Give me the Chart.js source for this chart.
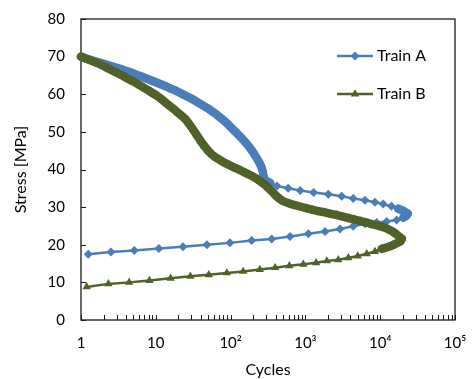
<!DOCTYPE html>
<html lang="en">
<head>
<meta charset="UTF-8">
<title>Stress vs Cycles</title>
<script src="https://cdn.jsdelivr.net/npm/chart.js@4.4.0/dist/chart.umd.min.js"></script>
<style>
  html, body { margin: 0; padding: 0; background: #fff; }
  #wrap { width: 474px; height: 379px; }
</style>
</head>
<body>
<div id="wrap"><canvas id="stressChart" width="474" height="379"></canvas></div>
<script>
// Train A: upper branch, turning point, lower branch
const cyclesA = [
  1.00, 1.12, 1.26, 1.41, 1.58, 1.78, 2.00, 2.24, 2.51, 2.82,
  3.16, 3.55, 3.98, 4.47, 5.01, 5.62, 6.31, 7.08, 7.94, 8.91,
  10.0, 11.2, 12.6, 14.1, 15.8, 17.8, 20.0, 22.4, 25.1, 28.2,
  31.6, 35.5, 39.8, 44.7, 50.1, 56.2, 63.1, 70.8, 79.4, 89.1,
  100, 112, 126, 141, 158, 178, 200, 219, 240, 257,
  269, 275, 282, 339, 417, 589, 851, 1288, 2023, 3055,
  4365, 6266, 8511, 10965, 14125, 17378, 20893, 23442, 22400, 20370,
  16600, 12220, 8970, 6270, 4365, 2900, 1830, 1094, 622, 354,
  191, 98, 48.3, 23.1, 11.0, 5.16, 2.52, 1.25
];
const stressA = [
  70.0, 69.6, 69.3, 69.0, 68.7, 68.4, 68.1, 67.8, 67.5, 67.2,
  66.9, 66.6, 66.2, 65.9, 65.5, 65.1, 64.8, 64.4, 64.0, 63.6,
  63.2, 62.8, 62.4, 62.0, 61.5, 61.1, 60.6, 60.1, 59.6, 59.1,
  58.6, 58.0, 57.4, 56.8, 56.2, 55.5, 54.8, 54.0, 53.2, 52.3,
  51.3, 50.3, 49.3, 48.3, 47.2, 46.0, 44.6, 43.3, 42.0, 40.7,
  39.5, 38.3, 37.3, 36.4, 35.6, 35.0, 34.4, 33.9, 33.4, 32.9,
  32.3, 31.8, 31.3, 30.8, 30.2, 29.6, 28.9, 28.3, 27.7, 27.2,
  26.6, 26.2, 25.9, 25.6, 24.9, 24.2, 23.5, 22.9, 22.2, 21.5,
  21.1, 20.5, 20.0, 19.5, 19.0, 18.5, 18.1, 17.5
];

// Train B
const cyclesB = [
  1.00, 1.12, 1.26, 1.41, 1.58, 1.78, 2.00, 2.24, 2.51, 2.82,
  3.16, 3.55, 3.98, 4.47, 5.01, 5.62, 6.31, 7.08, 7.94, 8.91,
  10.0, 11.2, 12.6, 14.1, 15.8, 17.8, 20.0, 22.4, 25.1, 28.2,
  31.6, 35.5, 39.8, 44.7, 50.1, 56.2, 63.1, 70.8, 79.4, 89.1,
  100, 112, 126, 141, 158, 178, 200, 224, 251, 282,
  316, 355, 398, 447, 501, 603, 724, 871, 1047, 1259,
  1514, 1820, 2188, 2630, 3162, 3802, 4571, 5495, 6607, 7943,
  9333, 10965, 12589, 14454, 16218, 17783, 19498, 18620, 16600, 14790,
  12830, 10470, 8510, 6610, 5010, 3750, 2750, 1930, 1390, 938,
  610, 393, 246, 147, 89, 51, 29, 15.8, 8.2, 4.4,
  2.32, 1.19
];
const stressB = [
  70.0, 69.6, 69.2, 68.8, 68.4, 68.0, 67.5, 67.0, 66.5, 66.0,
  65.5, 65.0, 64.4, 63.9, 63.4, 62.8, 62.2, 61.6, 61.0, 60.4,
  59.8, 59.1, 58.3, 57.5, 56.7, 55.9, 55.0, 54.2, 53.3, 52.0,
  50.6, 49.1, 47.6, 46.2, 45.0, 44.0, 43.2, 42.6, 42.0, 41.5,
  41.0, 40.5, 40.1, 39.6, 39.1, 38.6, 38.1, 37.5, 36.8, 36.1,
  35.2, 34.2, 33.2, 32.3, 31.6, 31.0, 30.5, 30.1, 29.7, 29.3,
  28.9, 28.6, 28.2, 27.9, 27.5, 27.1, 26.7, 26.3, 25.9, 25.4,
  25.1, 24.7, 24.2, 23.6, 22.9, 22.2, 21.6, 20.9, 20.4, 19.9,
  19.4, 18.9, 18.2, 17.6, 17.0, 16.5, 16.0, 15.7, 15.2, 14.8,
  14.4, 13.9, 13.4, 12.9, 12.5, 12.0, 11.6, 11.1, 10.5, 10.0,
  9.6, 8.8
];

const seriesNames = ['Train A', 'Train B'];
const xTickValues = [1, 10, 100, 1000, 10000, 100000];
const xTickLabels = ['1', '10', '10²', '10³', '10⁴', '10⁵'];

const BLUE = '#4A7EBB';
const GREEN = '#4F6228';
const FONT = 'Lato, "Open Sans", sans-serif';

function toPoints(xs, ys) {
  return xs.map((x, i) => ({ x: x, y: ys[i] }));
}

// where markers crowd together the series reads as a thick band
function bandWidth(c) {
  const d = Math.hypot(c.p1.x - c.p0.x, c.p1.y - c.p0.y);
  return d < 7 ? 8.5 : 2.5;
}

function drawMarker(ctx, style, x, y, r, color) {
  ctx.save();
  ctx.fillStyle = color;
  ctx.beginPath();
  if (style === 'rectRot') {
    ctx.moveTo(x, y - r);
    ctx.lineTo(x + r, y);
    ctx.lineTo(x, y + r);
    ctx.lineTo(x - r, y);
  } else {
    ctx.moveTo(x, y - r);
    ctx.lineTo(x + r * 0.866, y + r * 0.5);
    ctx.lineTo(x - r * 0.866, y + r * 0.5);
  }
  ctx.closePath();
  ctx.fill();
  ctx.restore();
}

// frame round the plot area + inward tick marks
const frameTicks = {
  id: 'frameTicks',
  beforeDatasetsDraw(chart) {
    const { ctx, chartArea: a, scales } = chart;
    ctx.save();
    ctx.strokeStyle = '#1a1a1a';
    ctx.lineWidth = 1.3;
    ctx.strokeRect(a.left, a.top, a.right - a.left, a.bottom - a.top);
    ctx.lineWidth = 1;
    ctx.beginPath();
    for (let v = 0; v <= 80; v += 10) {
      const py = Math.round(scales.y.getPixelForValue(v)) + 0.5;
      ctx.moveTo(a.left, py);
      ctx.lineTo(a.left + 5, py);
    }
    for (let d = 0; d < 5; d++) {
      for (let m = 1; m <= 10; m++) {
        const px = Math.round(scales.x.getPixelForValue(m * Math.pow(10, d))) + 0.5;
        ctx.moveTo(px, a.bottom);
        ctx.lineTo(px, a.bottom - 5);
      }
    }
    ctx.stroke();
    ctx.restore();
  }
};

// legend drawn inside the plot, top right
const boxLegend = {
  id: 'boxLegend',
  afterDraw(chart) {
    const ctx = chart.ctx;
    const rows = [
      { y: 56, ds: chart.data.datasets[0] },
      { y: 94, ds: chart.data.datasets[1] }
    ];
    ctx.save();
    rows.forEach(r => {
      ctx.strokeStyle = r.ds.borderColor;
      ctx.lineWidth = r.ds.borderWidth;
      ctx.beginPath();
      ctx.moveTo(337, r.y);
      ctx.lineTo(373, r.y);
      ctx.stroke();
      drawMarker(ctx, r.ds.pointStyle, 355, r.y, r.ds.pointRadius, r.ds.backgroundColor);
      ctx.fillStyle = '#000';
      ctx.font = '16px ' + FONT;
      ctx.textAlign = 'left';
      ctx.textBaseline = 'middle';
      ctx.fillText(r.ds.label, 377, r.y);
    });
    ctx.restore();
  }
};

// invisible outward ticks only push the labels away from the axis
const hiddenGrid = (len) => ({
  display: true,
  drawOnChartArea: false,
  drawTicks: true,
  tickLength: len,
  color: 'rgba(0,0,0,0)'
});

const ctx = document.getElementById('stressChart').getContext('2d');
new Chart(ctx, {
  type: 'scatter',
  data: {
    datasets: [
      {
        label: seriesNames[0],
        data: toPoints(cyclesA, stressA),
        showLine: true,
        borderColor: BLUE,
        backgroundColor: BLUE,
        borderWidth: 2.5,
        borderCapStyle: 'round',
        borderJoinStyle: 'round',
        segment: { borderWidth: bandWidth },
        pointStyle: 'rectRot',
        pointRadius: 4.5,
        pointBorderWidth: 0,
        tension: 0,
        clip: false,
        order: 1
      },
      {
        label: seriesNames[1],
        data: toPoints(cyclesB, stressB),
        showLine: true,
        borderColor: GREEN,
        backgroundColor: GREEN,
        borderWidth: 2.5,
        borderCapStyle: 'round',
        borderJoinStyle: 'round',
        segment: { borderWidth: bandWidth },
        pointStyle: 'triangle',
        pointRadius: 4.8,
        pointBorderWidth: 0,
        tension: 0,
        clip: false,
        order: 0
      }
    ]
  },
  options: {
    responsive: false,
    animation: false,
    devicePixelRatio: 1,
    layout: { padding: { top: 19, right: 19, left: 0, bottom: 0 } },
    plugins: { legend: { display: false }, tooltip: { enabled: false } },
    scales: {
      x: {
        type: 'logarithmic',
        min: 1,
        max: 100000,
        afterBuildTicks: s => { s.ticks = xTickValues.map(v => ({ value: v, major: true })); },
        afterFit: s => { s.height = 59; },
        ticks: {
          autoSkip: false,
          maxRotation: 0,
          padding: 0,
          color: '#000',
          font: { family: FONT, size: 15 },
          callback: (v, i) => xTickLabels[i]
        },
        grid: hiddenGrid(14),
        border: { display: false },
        title: {
          display: true,
          text: 'Cycles',
          color: '#000',
          font: { family: FONT, size: 16 },
          padding: { top: 0, bottom: 0 }
        }
      },
      y: {
        min: 0,
        max: 80,
        afterFit: s => { s.width = 81; },
        ticks: {
          stepSize: 10,
          padding: 0,
          color: '#000',
          font: { family: FONT, size: 15 }
        },
        grid: hiddenGrid(16),
        border: { display: false },
        title: {
          display: true,
          text: 'Stress [MPa]',
          color: '#000',
          font: { family: FONT, size: 16 },
          padding: { top: 11, bottom: 0 }
        }
      }
    }
  },
  plugins: [frameTicks, boxLegend]
});
</script>
</body>
</html>
